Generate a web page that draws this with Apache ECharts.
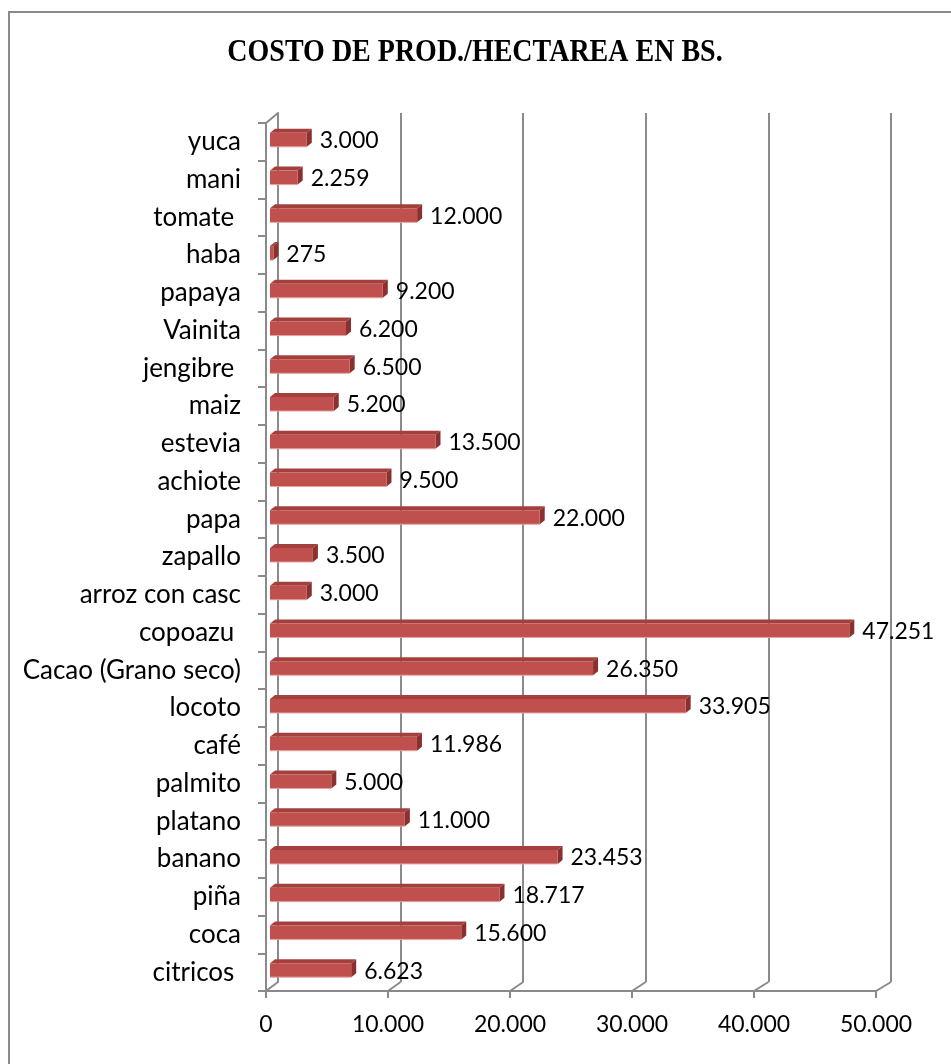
<!DOCTYPE html>
<html>
<head>
<meta charset="utf-8">
<script src="https://cdn.jsdelivr.net/npm/echarts@6/dist/echarts.min.js"></script>
<style>
html,body{margin:0;padding:0;background:#fff;}
#chart{width:951px;height:1064px;}
</style>
</head>
<body>
<div id="chart"></div>
<script>
// ---- data ----
const categories = ['citricos ','coca','piña','banano','platano','palmito','café','locoto','Cacao (Grano seco)','copoazu ','arroz con casc','zapallo','papa','achiote','estevia','maiz','jengibre ','Vainita','papaya','haba','tomate ','mani','yuca'];
const values = [6623,15600,18717,23453,11000,5000,11986,33905,26350,47251,3000,3500,22000,9500,13500,5200,6500,6200,9200,275,12000,2259,3000];
const xTicks = [0,10000,20000,30000,40000,50000];
const titleText = 'COSTO DE PROD./HECTAREA EN BS.';

// ---- layout ----
const FRONT = {left:266, top:123, right:876, bottom:991};
const BACK  = {left:278, top:113, right:891, bottom:982};
const BARS  = {left:270, top:121, right:883, bottom:989};
const GRAY = '#8a8a8a';
const FONT = 'Lato';

function g(b){ return {left:b.left, top:b.top, width:b.right-b.left, height:b.bottom-b.top}; }
function fmt(v){ return String(v).replace(/\B(?=(\d{3})+(?!\d))/g,'.'); }

const chart = echarts.init(document.getElementById('chart'), null, {renderer:'canvas'});
const xMin = xTicks[0], xMax = xTicks[xTicks.length-1], xInt = xTicks[1]-xTicks[0];

const option = {
  backgroundColor:'#fff',
  animation:false,
  graphic:[
    {type:'rect', silent:true, z:-10, shape:{x:9,y:12,width:1000,height:1100},
      style:{fill:'none', stroke:GRAY, lineWidth:2}},
    {type:'text', silent:true, x:475, y:53, scaleY:1.12, originY:0,
      style:{text:titleText, align:'center', verticalAlign:'middle',
        fontFamily:'Liberation Serif', fontWeight:'bold', fontSize:28, fill:'#000'}}
  ],
  grid:[g(BACK), g(BARS), g(FRONT)],
  xAxis:[
    {gridIndex:0, type:'value', min:xMin, max:xMax, interval:xInt,
      axisLine:{show:false}, axisTick:{show:false}, axisLabel:{show:false},
      splitLine:{show:true, lineStyle:{color:GRAY, width:2}}},
    {gridIndex:1, type:'value', min:xMin, max:xMax, interval:xInt, show:false},
    {gridIndex:2, type:'value', min:xMin, max:xMax, interval:xInt,
      axisLine:{show:true, lineStyle:{color:GRAY, width:2}},
      axisTick:{show:true, length:7, lineStyle:{color:GRAY, width:2}},
      splitLine:{show:false},
      axisLabel:{margin:22, fontFamily:FONT, fontSize:23, color:'#000', formatter:v=>fmt(v)}}
  ],
  yAxis:[
    {gridIndex:0, type:'value', min:0, max:1,
      axisLine:{show:true, lineStyle:{color:GRAY, width:2}},
      axisTick:{show:false}, axisLabel:{show:false}, splitLine:{show:false}},
    {gridIndex:1, type:'category', data:categories, show:false},
    {gridIndex:2, type:'category', data:categories,
      axisLine:{show:true, lineStyle:{color:GRAY, width:2}},
      axisTick:{show:true, length:8, lineStyle:{color:GRAY, width:2}},
      splitLine:{show:false},
      axisLabel:{margin:25, fontFamily:FONT, fontSize:26, color:'#000'}}
  ],
  series:[
    {
      type:'custom', xAxisIndex:2, yAxisIndex:2, silent:true, clip:false, z:1,
      data:xTicks.map(v=>[v,0]),
      renderItem:function(params, api){
        const v = api.value(0);
        const cs = params.coordSys;
        const fx = api.coord([v,0])[0];
        const fy = cs.y + cs.height;
        const bx = BACK.left + (fx-FRONT.left)*(BACK.right-BACK.left)/(FRONT.right-FRONT.left);
        const by = BACK.bottom;
        const children = [{type:'line', shape:{x1:fx,y1:fy,x2:bx,y2:by}, style:{stroke:GRAY, lineWidth:2}}];
        if (v === xMin) {
          children.push({type:'line', shape:{x1:fx,y1:cs.y,x2:BACK.left,y2:BACK.top}, style:{stroke:GRAY, lineWidth:2}});
        }
        return {type:'group', children:children};
      }
    },
    {
      type:'custom', xAxisIndex:1, yAxisIndex:1, silent:true, clip:false, z:5,
      data:values.map((v,i)=>[v,i]),
      encode:{x:0, y:1},
      renderItem:function(params, api){
        const v = api.value(0), idx = api.value(1);
        const p0 = api.coord([0, idx]);
        const p1 = api.coord([v, idx]);
        const h = 14, dx = 5, dy = 4;
        const x0 = p0[0], x1 = p1[0], yc = p1[1];
        const yt = yc - h/2, yb = yc + h/2;
        return {type:'group', children:[
          {type:'polygon', shape:{points:[[x0,yt],[x1,yt],[x1+dx,yt-dy],[x0+dx,yt-dy]]}, style:{fill:'#A3403D'}},
          {type:'polygon', shape:{points:[[x1,yt],[x1+dx,yt-dy],[x1+dx,yb-dy],[x1,yb]]}, style:{fill:'#8A302E'}},
          {type:'rect', shape:{x:x0,y:yt,width:Math.max(x1-x0,0.5),height:h}, style:{fill:'#C0504D'}},
          {type:'line', shape:{x1:x0,y1:yb,x2:x1,y2:yb}, style:{stroke:'#E3A3A1', lineWidth:1}},
          {type:'text', style:{text:fmt(v), x:x1+dx+8, y:yc+1, verticalAlign:'middle', align:'left',
            fontFamily:FONT, fontSize:23, fill:'#000'}}
        ]};
      }
    }
  ]
};
chart.setOption(option);
</script>
</body>
</html>
